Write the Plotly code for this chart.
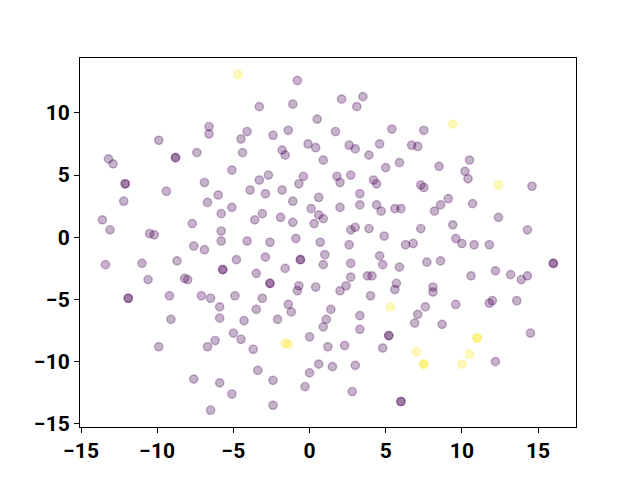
import plotly.graph_objects as go

# Purple points (label 0); darker spots in the reference are two coincident points
x_purple = [
    -6.6, -6.6, -4.1, -4.5, -9.9, -7.4, -4.4, -8.8, -8.8, -13.2, -12.9, -5.1,
    -12.1, -12.1, -6.9, -9.4, -3.9, -6.0, -12.2, -6.7, -5.1, -5.8, -13.6, -7.7, -13.1,
    -10.5, -10.2, -5.8, -5.8, -4.1, -7.6, -6.9,
    -13.4, -11.0, -8.7, -4.8, -5.7, -5.7, -10.6, -8.2, -8.0, -11.9, -11.9, -9.2, -7.1,
    -6.5, -4.9, -5.9, -9.1, -5.9, -4.3, -5.0, -4.5, -6.2, -6.7, -9.9, -3.7, -7.6, -5.9,
    -5.1, -6.5,
    -0.8, 2.1, 3.5, 3.1, -3.3, -1.1, 0.5, -1.4, 1.7, 5.4, -2.4, -0.1, 0.4, 2.6, 3.0,
    4.6, 6.7, 7.1, -1.8, -1.6, 0.9, 3.9, 5.0, 5.9, -2.7, -3.3, -0.4, -0.7, 1.8, 2.0,
    2.7, 4.2, 4.4, -2.9, -1.8, 0.6, 3.3, -1.1, 0.1, 0.6, 0.9, 2.0, 3.3, 4.4, 4.7, 5.6,
    6.0, -3.1, -3.6, -1.9, -1.1, 0.3, 2.7, 3.0, 3.9, 4.9, -2.6, -0.9, 0.7, 2.6, 6.3, 6.8,
    -2.9, -0.6, -0.6, 1.0, 0.9, 2.7, 4.6, 4.8, 5.9, -3.5, -1.6, 2.7, 3.8, 4.1,
    -2.6, -2.6, -0.7, -0.8, 0.4, 2.0, 2.4, 5.7, 5.6, 4.0, -3.1, -1.4, -1.2, -3.5, 1.4,
    -2.1, 1.1, 0.9, 3.3, 3.3, 7.1, 6.9, 0.0, 5.2, 5.2, 1.2, 2.3, 4.8,
    -3.4, 0.6, 1.5, 3.0, 0.0, -2.4, -0.3, 2.8, -2.4, 6.0, 6.0,
    7.5, 10.5, 8.5, 10.2, 10.4, 14.6, 7.3, 7.5, 9.1, 8.6, 10.7, 8.2, 12.4,
    7.3, 9.4, 14.3, 9.6, 10.0, 10.8, 11.8,
    7.7, 8.6, 16.0, 16.0, 10.6, 12.2, 13.2, 13.9, 14.3, 8.1, 8.1, 9.6, 11.8, 12.0, 13.6,
    7.6, 8.7, 14.5, 12.2,
]
y_purple = [
    8.9, 8.3, 8.5, 7.9, 7.8, 6.8, 6.8, 6.4, 6.4, 6.3, 5.9, 5.4,
    4.3, 4.3, 4.4, 3.7, 3.8, 3.4, 2.9, 2.8, 2.4, 1.9, 1.4, 1.1, 0.6,
    0.3, 0.2, 0.5, -0.3, -0.3, -0.7, -1.0,
    -2.2, -2.1, -1.9, -1.8, -2.6, -2.6, -3.4, -3.3, -3.4, -4.9, -4.9, -4.7, -4.7,
    -4.9, -4.7, -5.6, -6.6, -6.5, -6.7, -7.7, -8.2, -8.3, -8.8, -8.8, -9.0, -11.4, -11.7,
    -12.6, -13.9,
    12.6, 11.1, 11.3, 10.5, 10.5, 10.7, 9.5, 8.6, 8.5, 8.7, 8.2, 7.5, 7.2, 7.4, 7.1,
    7.5, 7.4, 7.3, 7.0, 6.6, 6.2, 6.6, 5.6, 6.0, 5.0, 4.6, 4.9, 4.3, 4.9, 4.4,
    5.0, 4.6, 4.3, 3.5, 3.8, 3.2, 3.5, 2.9, 2.3, 1.8, 1.5, 2.4, 2.6, 2.6, 2.1, 2.3,
    2.3, 1.9, 1.4, 1.6, 1.2, 1.1, 0.6, 0.8, 0.7, 0.1, -0.4, -0.1, -0.4, -0.6, -0.6, -0.5,
    -1.6, -1.8, -1.8, -1.4, -2.2, -2.1, -1.5, -2.2, -2.4, -2.9, -2.5, -3.2, -3.1, -3.1,
    -3.7, -3.7, -3.9, -4.3, -4.0, -4.3, -3.9, -3.7, -4.2, -4.7, -4.9, -5.4, -6.0, -5.8, -5.8,
    -6.6, -6.6, -7.2, -6.3, -7.4, -6.2, -6.9, -8.0, -7.9, -7.9, -8.8, -8.7, -8.9,
    -10.7, -10.2, -10.4, -10.3, -10.9, -11.5, -12.0, -12.4, -13.5, -13.2, -13.2,
    8.6, 6.2, 5.7, 5.3, 4.7, 4.1, 4.2, 4.0, 3.1, 2.6, 2.7, 2.1, 1.6,
    0.7, 1.0, 0.6, -0.1, -0.5, -0.6, -0.6,
    -2.0, -1.9, -2.1, -2.1, -3.1, -2.7, -3.0, -3.4, -3.1, -4.0, -4.4, -5.4, -5.3, -5.1, -5.1,
    -5.6, -7.0, -7.7, -10.0,
]

# Yellow points (label 1)
x_yellow = [-4.7, 5.3, -1.6, -1.4, 7.0, 9.4, 12.4, 11.0, 11.0, 7.5, 7.5, 10.5, 10.0]
y_yellow = [13.1, -5.6, -8.5, -8.6, -9.2, 9.1, 4.2, -8.1, -8.1, -10.2, -10.2, -9.4, -10.2]

x_ticks = [-15, -10, -5, 0, 5, 10, 15]
y_ticks = [-15, -10, -5, 0, 5, 10]

PURPLE = "rgba(68,1,84,0.3)"
YELLOW = "rgba(253,231,37,0.3)"

fig = go.Figure()
for xs, ys, col in [(x_purple, y_purple, PURPLE), (x_yellow, y_yellow, YELLOW)]:
    fig.add_trace(
        go.Scatter(
            x=xs,
            y=ys,
            mode="markers",
            marker=dict(size=8.3, color=col, line=dict(color=col, width=1.4)),
            hoverinfo="skip",
        )
    )

axis_common = dict(
    showgrid=False,
    zeroline=False,
    showline=True,
    linecolor="black",
    linewidth=1,
    mirror=True,
    ticks="outside",
    ticklen=5,
    tickwidth=1,
    tickcolor="black",
    tickfont=dict(family="Roboto", size=21, color="black", weight="bold"),
)

fig.update_layout(
    width=640,
    height=480,
    margin=dict(l=80, r=64, t=58, b=53),
    paper_bgcolor="white",
    plot_bgcolor="white",
    showlegend=False,
    xaxis=dict(range=[-15.07, 17.49], tickvals=x_ticks, **axis_common),
    yaxis=dict(range=[-15.25, 14.41], tickvals=y_ticks, **axis_common),
)

fig.write_html(
    "out.html",
    config={"displayModeBar": False},
    post_script="document.body.style.margin='0';document.body.style.padding='0';",
)
